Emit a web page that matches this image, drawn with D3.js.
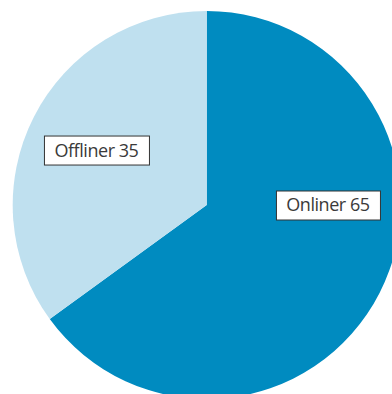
<!DOCTYPE html>
<html>
<head>
<meta charset="utf-8">
<script src="https://cdn.jsdelivr.net/npm/d3@7"></script>
<style>
  html, body { margin: 0; padding: 0; background: #fff; overflow: hidden; }
  svg { display: block; }
</style>
</head>
<body>
<svg id="chart" width="392" height="394"></svg>
<script>
// Share of respondents by segment
const categories = ["Onliner", "Offliner"];
const values = [65, 35];
const colors = ["#008BC0", "#BFE0EF"];
// Where each label box sits: angle (degrees clockwise from 12 o'clock) and fraction of the radius
const labelAngles = [90, 296.5];
const labelRadii = [0.625, 0.635];

const width = 392, height = 394;
const cx = 206.7, cy = 205, radius = 194;

const svg = d3.select("#chart");
const g = svg.append("g").attr("transform", `translate(${cx},${cy})`);

const data = categories.map((c, i) => ({ name: c, value: values[i], color: colors[i], la: labelAngles[i], lr: labelRadii[i] }));

const pie = d3.pie().value(d => d.value).sort(null);
const arc = d3.arc().innerRadius(0).outerRadius(radius);

g.selectAll("path.slice")
  .data(pie(data))
  .join("path")
  .attr("class", "slice")
  .attr("d", arc)
  .attr("fill", d => d.data.color);

const labels = g.selectAll("g.label")
  .data(data)
  .join("g")
  .attr("class", "label")
  .attr("transform", d => {
    const a = d.la * Math.PI / 180;
    const r = d.lr * radius;
    return `translate(${r * Math.sin(a)},${-r * Math.cos(a)})`;
  });

const rects = labels.append("rect")
  .attr("fill", "#fff")
  .attr("stroke", "#333")
  .attr("stroke-width", 1);

const texts = labels.append("text")
  .attr("text-anchor", "middle")
  .attr("dy", "0.36em")
  .attr("font-family", "'Open Sans', 'Noto Sans', sans-serif")
  .attr("font-size", 18)
  .attr("letter-spacing", "-0.45px")
  .attr("fill", "#3a3a3a")
  .text(d => `${d.name} ${d.value}`);

texts.each(function() {
  const w = this.getComputedTextLength();
  const bw = Math.round(w + 21), bh = 29;
  d3.select(this.parentNode).select("rect")
    .attr("x", -bw / 2 + 0.5)
    .attr("y", -bh / 2 + 0.5)
    .attr("width", bw)
    .attr("height", bh);
});
</script>
</body>
</html>
